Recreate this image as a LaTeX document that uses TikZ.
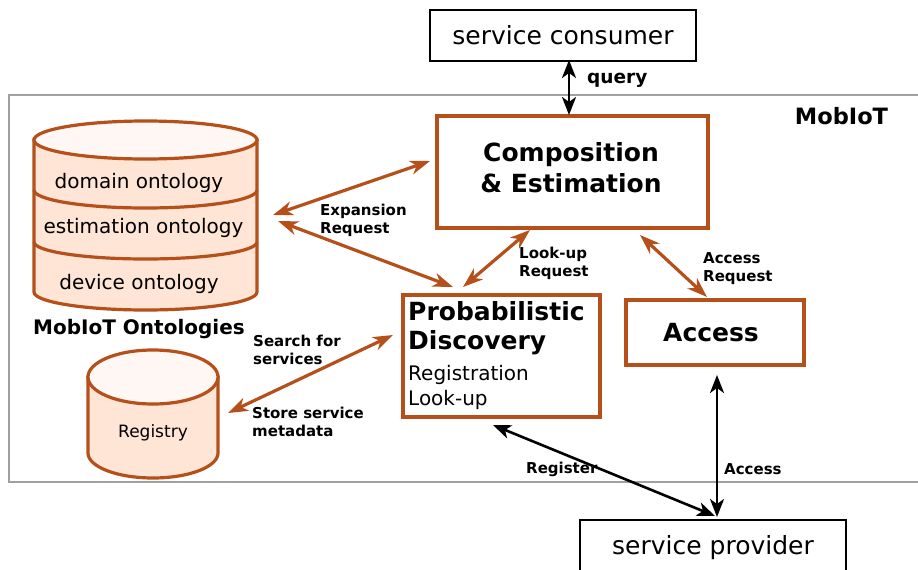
\documentclass[tikz,border=0pt]{standalone}
\usepackage{fontspec}
\setmainfont{DejaVu Sans}
\usetikzlibrary{arrows.meta}
\definecolor{orn}{HTML}{B5501B}
\definecolor{peach}{HTML}{FFE5D6}
\definecolor{peachtop}{HTML}{FFF7F3}
\definecolor{framegray}{HTML}{A0A0A0}
\begin{document}
\begin{tikzpicture}[x=1pt,y=-1pt,
  obox/.style={draw=orn, line width=3.2pt, fill=white, inner sep=0pt},
  bbox/.style={draw=black, line width=2.6pt, fill=white, inner sep=0pt, font=\fontsize{25}{30}\selectfont},
  oarr/.style={draw=orn, line width=3.2pt, {Stealth[length=20pt,width=14pt,inset=6pt]}-{Stealth[length=20pt,width=14pt,inset=6pt]}},
  barr/.style={draw=black, line width=2.6pt, {Stealth[length=18pt,width=14pt,inset=5pt]}-{Stealth[length=18pt,width=14pt,inset=5pt]}},
  lbl/.style={font=\fontsize{15}{18}\selectfont\bfseries, align=left, anchor=west, inner sep=0pt},
  cyltxt/.style={font=\fontsize{20}{24}\selectfont, inner sep=0pt},
  cyl/.style={draw=orn, line width=3.2pt}
]
\clip (0,0) rectangle (918,570);
\fill[white] (0,0) rectangle (918,570);

% MobIoT frame
\draw[framegray, line width=2.6pt] (9,95) rectangle (940,482);
\node[font=\fontsize{22.5}{27}\selectfont\bfseries, inner sep=0pt] (mob) at (841.5,116) {MobIoT};

% Ontology stack
\path[cyl, fill=peach] (34,140) -- (34,292) arc[start angle=180, end angle=360, x radius=111.5pt, y radius=18pt] -- (257,140) -- cycle;
\draw[cyl] (34,242) arc[start angle=180, end angle=360, x radius=111.5pt, y radius=17pt];
\draw[cyl] (34,190) arc[start angle=180, end angle=360, x radius=111.5pt, y radius=18pt];
\draw[cyl, fill=peachtop] (145.5,140) ellipse[x radius=111.5pt, y radius=19pt];
\node[cyltxt] (dom) at (139,183) {domain ontology};
\node[cyltxt] (est) at (143.5,228) {estimation ontology};
\node[cyltxt] (dev) at (139,283.5) {device ontology};
\node[cyltxt, font=\fontsize{20}{24}\selectfont\bfseries] (ontl) at (139,329) {MobIoT Ontologies};

% Registry
\path[cyl, fill=peach] (88,377) -- (88,453) arc[start angle=180, end angle=360, x radius=65pt, y radius=25pt] -- (218,377) -- cycle;
\draw[cyl, fill=peachtop] (153,377) ellipse[x radius=65pt, y radius=27pt];
\node[cyltxt, font=\fontsize{17}{20}\selectfont] (reg) at (153,433) {Registry};

% Boxes
\node[bbox, minimum width=266pt, minimum height=51pt] (cons) at (563,35.5) {service consumer};
\node[bbox, minimum width=266pt, minimum height=55pt] (prov) at (713,547.5) {service provider};
\node[obox, minimum width=271pt, minimum height=112pt] (comp) at (572.5,172) {};
\node[font=\fontsize{25}{31}\selectfont\bfseries, align=center, inner sep=0pt] (compt) at (571,168) {Composition\\\& Estimation};
\node[obox, minimum width=178pt, minimum height=65pt] (acc) at (715,332.5) {};
\node[font=\fontsize{25}{30}\selectfont\bfseries, inner sep=0pt] (acct) at (711,333) {Access};
\node[obox, minimum width=197pt, minimum height=122pt] (pd) at (501.5,356) {};
\node[anchor=north west, inner sep=0pt, align=left, font=\fontsize{25}{29}\selectfont\bfseries] (pdt) at (408,301) {Probabilistic\\Discovery};
\node[anchor=north west, inner sep=0pt, align=left, font=\fontsize{20}{25}\selectfont] (pds) at (408,365) {Registration\\Look-up};

% connector end points
\coordinate (c1a) at (430,161);
\coordinate (c1b) at (273,215);
\coordinate (c2a) at (278,221);
\coordinate (c2b) at (453,287);
\coordinate (c3a) at (530,230);
\coordinate (c3b) at (463,287);
\coordinate (c4a) at (640,235);
\coordinate (c4b) at (707,297);
\coordinate (c5a) at (393,335);
\coordinate (c5b) at (228,413);
\coordinate (c6a) at (569,60);
\coordinate (c6b) at (569,115);
\coordinate (c7a) at (717,375);
\coordinate (c7b) at (717,517);
\coordinate (c8a) at (493,425);
\coordinate (c8b) at (715,516);

% connectors
\draw[oarr] (c1a) -- (c1b);
\draw[oarr] (c2a) -- (c2b);
\draw[oarr] (c3a) -- (c3b);
\draw[oarr] (c4a) -- (c4b);
\draw[oarr] (c5a) -- (c5b);
\draw[barr] (c6a) -- (c6b);
\draw[barr] (c7a) -- (c7b);
\draw[barr] (c8a) -- (c8b);

% labels
\node[lbl, font=\fontsize{18.5}{22}\selectfont\bfseries] (lq) at (587,80) {query};
\node[lbl] (lexp) at (320,220) {Expansion\\Request};
\node[lbl] (llu) at (519,263) {Look-up\\Request};
\node[lbl] (lar) at (703,269) {Access\\Request};
\node[lbl] (lsf) at (253,350) {Search for\\services};
\node[lbl] (lsm) at (252,422) {Store service\\metadata};
\node[lbl] (lreg) at (526,469) {Register};
\node[lbl] (lacc) at (724,469) {Access};
\end{tikzpicture}
\end{document}
